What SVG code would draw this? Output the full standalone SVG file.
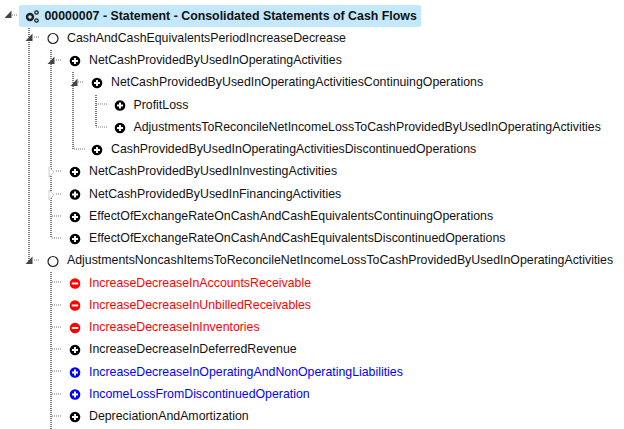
<svg xmlns="http://www.w3.org/2000/svg" width="624" height="429" viewBox="0 0 624 429">
<style>
text{font-family:"Liberation Sans",Arial,sans-serif;font-size:12.34px;fill:#111}
.root{font-weight:bold;font-size:12.37px}
.r{fill:#f00}.b{fill:#00f}
.d{fill:none;stroke:#777;stroke-width:1;stroke-dasharray:1 1}
.v{fill:none;stroke:#444;stroke-width:1.4;stroke-dasharray:1 1}
.ex{fill:#444}
.co{fill:#fff;stroke:#ccc;stroke-width:1}
.open{fill:#fff;stroke:#222;stroke-width:1.2}
</style>
<defs>
<g id="plus"><circle r="5.300" stroke="none"/><path d="M-3 0H3M0-3V3" stroke="#fff" stroke-width="1.900" fill="none"/></g>
<g id="minus"><circle r="5.300" stroke="none"/><path d="M-3.200 0H3.200" stroke="#fff" stroke-width="2" fill="none"/></g>
<path id="tri" d="M-4.500 4L2.500 -3.500V4Z"/>
</defs>
<g id="connectors">
<path class="v" d="M29 28V261M51 50V238M73 72V149M96 95V127M51 272V429"/>
<path class="d" d="M12 15H18M34 37H40M56 60H62M78 82H84M96 104H108M96 127H108M74 149H86M56 171H62M56 194H62M52 216H62M52 238H62M34 260H40M52 282H62M52 305H62M52 327H62M52 349H62M52 371H62M52 394H62M52 416H62"/>
<use href="#tri" class="ex" x="9" y="14"/>
<use href="#tri" class="ex" x="30" y="37"/>
<use href="#tri" class="ex" x="52" y="60"/>
<use href="#tri" class="ex" x="75" y="82"/>
<use href="#tri" class="ex" x="30" y="260"/>
<path class="co" d="M49 167L54 172L49 177Z"/>
<path class="co" d="M49 190L54 195L49 200Z"/>
</g>
<g id="n0">
<rect x="19" y="5" width="402" height="22" rx="2" fill="#c4e8fb"/>
<g fill="none" stroke="#222"><circle cx="30" cy="17" r="3" stroke-width="2.400"/><circle cx="36.500" cy="12.500" r="1.700" stroke-width="1.300"/><circle cx="36.500" cy="20.500" r="1.700" stroke-width="1.300"/></g>
<text class="root" x="44.500" y="19.500">00000007 - Statement - Consolidated Statements of Cash Flows</text>
</g>
<g id="n1"><circle class="open" cx="53" cy="38.500" r="5"/><text x="67" y="41.500">CashAndCashEquivalentsPeriodIncreaseDecrease</text></g>
<g id="n2"><use href="#plus" x="75" y="61"/><text x="89" y="64">NetCashProvidedByUsedInOperatingActivities</text></g>
<g id="n3"><use href="#plus" x="97" y="83"/><text x="111" y="86">NetCashProvidedByUsedInOperatingActivitiesContinuingOperations</text></g>
<g id="n4"><use href="#plus" x="120" y="105.500"/><text x="133.500" y="108.500">ProfitLoss</text></g>
<g id="n5"><use href="#plus" x="120" y="128"/><text x="133.500" y="131">AdjustmentsToReconcileNetIncomeLossToCashProvidedByUsedInOperatingActivities</text></g>
<g id="n6"><use href="#plus" x="97" y="150"/><text x="111" y="153">CashProvidedByUsedInOperatingActivitiesDiscontinuedOperations</text></g>
<g id="n7"><use href="#plus" x="75" y="172"/><text x="89" y="175">NetCashProvidedByUsedInInvestingActivities</text></g>
<g id="n8"><use href="#plus" x="75" y="194.500"/><text x="89" y="197.500">NetCashProvidedByUsedInFinancingActivities</text></g>
<g id="n9"><use href="#plus" x="75" y="217"/><text x="89" y="220">EffectOfExchangeRateOnCashAndCashEquivalentsContinuingOperations</text></g>
<g id="n10"><use href="#plus" x="75" y="239"/><text x="89" y="242">EffectOfExchangeRateOnCashAndCashEquivalentsDiscontinuedOperations</text></g>
<g id="n11"><circle class="open" cx="53" cy="261.500" r="5"/><text x="67" y="264">AdjustmentsNoncashItemsToReconcileNetIncomeLossToCashProvidedByUsedInOperatingActivities</text></g>
<g id="n12"><use href="#minus" x="75" y="283.500" fill="#f00"/><text class="r" x="89" y="286.500">IncreaseDecreaseInAccountsReceivable</text></g>
<g id="n13"><use href="#minus" x="75" y="305.500" fill="#f00"/><text class="r" x="89" y="309">IncreaseDecreaseInUnbilledReceivables</text></g>
<g id="n14"><use href="#minus" x="75" y="328" fill="#f00"/><text class="r" x="89" y="331">IncreaseDecreaseInInventories</text></g>
<g id="n15"><use href="#plus" x="75" y="350"/><text x="89" y="353">IncreaseDecreaseInDeferredRevenue</text></g>
<g id="n16"><use href="#plus" x="75" y="372.500" fill="#00f"/><text class="b" x="89" y="375.500">IncreaseDecreaseInOperatingAndNonOperatingLiabilities</text></g>
<g id="n17"><use href="#plus" x="75" y="394.500" fill="#00f"/><text class="b" x="89" y="398">IncomeLossFromDiscontinuedOperation</text></g>
<g id="n18"><use href="#plus" x="75" y="417"/><text x="89" y="420">DepreciationAndAmortization</text></g>
</svg>
